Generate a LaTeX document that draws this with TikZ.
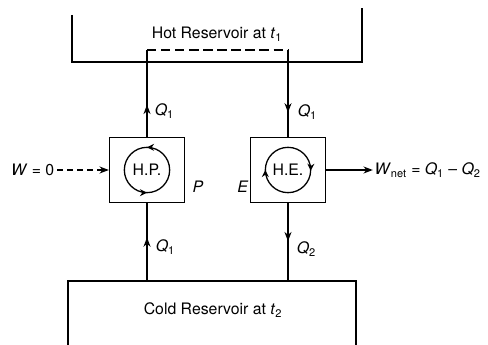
\documentclass[tikz,border=0pt]{standalone}
\usepackage{fontspec}
\setmainfont{TeX Gyre Heros}
\usetikzlibrary{arrows.meta, positioning, decorations.markings}

\begin{document}
\begin{tikzpicture}[
    x=0.03cm, y=-0.03cm,
    line width=1.1pt,
    font=\fontsize{13.5}{15}\selectfont,
    machine/.style={rectangle, draw, minimum width=2.25cm,
                minimum height=1.95cm, inner sep=0pt},
    loopcirc/.style={circle, draw, minimum size=1.36cm, inner sep=0pt},
    loopccw/.style={loopcirc, postaction={decorate}, decoration={markings,
                mark=at position 0.25 with {\arrow{Stealth[length=6pt,width=6pt]}},
                mark=at position 0.75 with {\arrow{Stealth[length=6pt,width=6pt]}}}},
    loopcw/.style={loopcirc, postaction={decorate}, decoration={markings,
                mark=at position 0.5 with {\arrowreversed{Stealth[length=6pt,width=6pt]}},
                mark=at position 0.995 with {\arrowreversed{Stealth[length=6pt,width=6pt]}}}},
    flowarrow/.style={postaction={decorate}, decoration={markings,
                mark=at position #1 with {\arrow{Stealth[length=8pt,width=6pt]}}}},
    arrow/.style={-{Stealth[length=8pt,width=6pt]}},
    lbl/.style={inner sep=1pt, anchor=west}
]
\useasboundingbox (0,0) rectangle (488,345);

% === RESERVOIRS ===
\draw (72,15) |- (362,62) -- (362,8);
\node (hot) at (217,34) {Hot Reservoir at \textit{t}\textsubscript{1}};
\draw (68,345) |- (356,281) -- (356,345);
\node (cold) at (213,310) {Cold Reservoir at \textit{t}\textsubscript{2}};

\coordinate (hotP) at (147,50);
\coordinate (hotE) at (288,50);
\coordinate (coldP) at (147,281);
\coordinate (coldE) at (288,281);

% === HEAT PUMP AND ENGINE ===
\node[machine] (hp) at (147,170) {};
\node[loopccw] (hpc) at (hp.center) {H.P.};
\node[machine] (he) at (288,170) {};
\node[loopcw] (hec) at (he.center) {H.E.};

\node (plbl) at (198,187) {\textit{P}};
\node (elbl) at (243,187) {\textit{E}};

\node[left=1.55cm of hp, inner sep=2pt] (work) {\textit{W} = 0};
\node[right=1.4cm of he, inner sep=1pt] (wnet) {\textit{W}\textsubscript{net} = \textit{Q}\textsubscript{1} -- \textit{Q}\textsubscript{2}};

% === ARROWS ===
\draw[flowarrow=0.37] (hp.north) -- (hotP);
\draw[dashed, dash pattern=on 8pt off 4pt] (hotP) -- (hotE);
\draw[flowarrow=0.72] (hotE) -- (he.north);
\draw[flowarrow=0.56] (coldP) -- (hp.south);
\draw[flowarrow=0.49] (he.south) -- (coldE);
\draw[arrow, dashed, dash pattern=on 5pt off 3.5pt] (work) -- (hp);
\draw[arrow] (he) -- (wnet);

\node[lbl] (qhot1) at (153,111) {\textit{Q}\textsubscript{1}};
\node[lbl] (qhot2) at (296,112) {\textit{Q}\textsubscript{1}};
\node[lbl] (qcold1) at (154,247) {\textit{Q}\textsubscript{1}};
\node[lbl] (qcold2) at (295,249) {\textit{Q}\textsubscript{2}};

\end{tikzpicture}
\end{document}
